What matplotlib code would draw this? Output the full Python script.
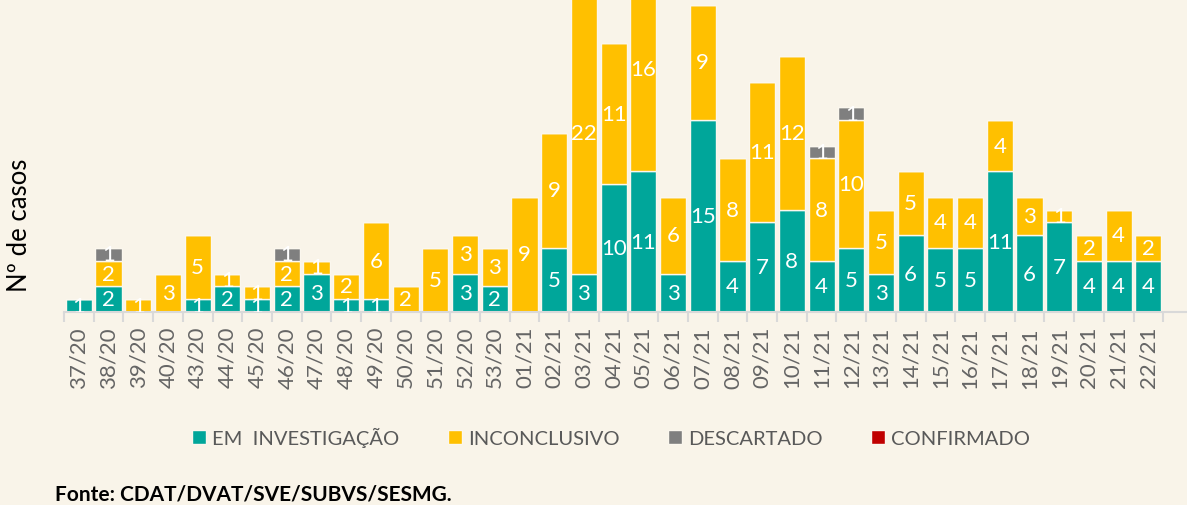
import matplotlib
matplotlib.use("Agg")
import matplotlib.pyplot as plt
import numpy as np

plt.rcParams['font.family'] = ['Lato', 'DejaVu Sans']

# semanas epidemiologicas
semanas = ["37/20", "38/20", "39/20", "40/20", "43/20", "44/20", "45/20", "46/20",
           "47/20", "48/20", "49/20", "50/20", "51/20", "52/20", "53/20",
           "01/21", "02/21", "03/21", "04/21", "05/21", "06/21", "07/21", "08/21",
           "09/21", "10/21", "11/21", "12/21", "13/21", "14/21", "15/21", "16/21",
           "17/21", "18/21", "19/21", "20/21", "21/21", "22/21"]
em_investigacao = [1, 2, 0, 0, 1, 2, 1, 2, 3, 1, 1, 0, 0, 3, 2,
                   0, 5, 3, 10, 11, 3, 15, 4, 7, 8, 4, 5, 3, 6, 5, 5,
                   11, 6, 7, 4, 4, 4]
inconclusivo = [0, 2, 1, 3, 5, 1, 1, 2, 1, 2, 6, 2, 5, 3, 3,
                9, 9, 22, 11, 16, 6, 9, 8, 11, 12, 8, 10, 5, 5, 4, 4,
                4, 3, 1, 2, 4, 2]
descartado = [0, 1, 0, 0, 0, 0, 0, 1, 0, 0, 0, 0, 0, 0, 0,
              0, 0, 0, 0, 0, 0, 0, 0, 0, 0, 1, 1, 0, 0, 0, 0,
              0, 0, 0, 0, 0, 0]
confirmado = [0] * len(semanas)

series = [("EM  INVESTIGAÇÃO", em_investigacao, "#00a69a"),
          ("INCONCLUSIVO", inconclusivo, "#ffc000"),
          ("DESCARTADO", descartado, "#7f7f7f"),
          ("CONFIRMADO", confirmado, "#c00000")]

bg = "#f9f4e9"
fig = plt.figure(figsize=(11.87, 5.06), dpi=100, facecolor=bg)
ax = fig.add_axes([64 / 1187, (506 - 313) / 506, 1 - 64 / 1187, 313 / 506])
ax.set_facecolor(bg)

x = np.arange(len(semanas))
bottom = np.zeros(len(semanas))
for nome, vals, cor in series:
    vals = np.array(vals, dtype=float)
    ax.bar(x, vals, 0.88, bottom=bottom, color=cor, edgecolor="#fbf7ee",
           linewidth=1, label=nome, zorder=2)
    for xi, b, v in zip(x, bottom, vals):
        if v > 0:
            ax.text(xi, b + v / 2, f"{int(v)}", ha="center", va="center",
                    color="white", fontsize=16, zorder=3, clip_on=True)
    bottom += vals

ax.set_xlim(-0.5, 37.3)
ax.set_ylim(0, 24.45)
for s in ["top", "right", "left"]:
    ax.spines[s].set_visible(False)
ax.spines["bottom"].set_color("#d9d9d9")
ax.spines["bottom"].set_linewidth(1.5)
ax.set_yticks([])
ax.set_xticks(x)
ax.set_xticklabels(semanas, rotation=90, fontsize=16, color="#656565")
ax.tick_params(axis="x", which="major", length=0, pad=10)
ax.set_xticks(np.arange(-0.5, len(semanas), 1), minor=True)
ax.tick_params(axis="x", which="minor", length=7, width=1.5, color="#d9d9d9")

fig.text(20 / 1187, 1 - 225 / 506, "Nº de casos", rotation=90, ha="center",
         va="center", fontsize=18.5, color="black")

handles, labels = ax.get_legend_handles_labels()
leg = fig.legend(handles, labels, loc="center", bbox_to_anchor=(611 / 1187, 1 - 438 / 506),
                 ncol=4, frameon=False, fontsize=14.5, handlelength=0.7, handleheight=0.7,
                 handletextpad=0.3, columnspacing=2.4)
for t in leg.get_texts():
    t.set_color("#595959")

fig.text(55 / 1187, 1 - 495 / 506, "Fonte: CDAT/DVAT/SVE/SUBVS/SESMG.", ha="left",
         va="center", fontsize=15, fontweight="bold", color="black")

fig.savefig("out.png", dpi=100, facecolor=bg)
